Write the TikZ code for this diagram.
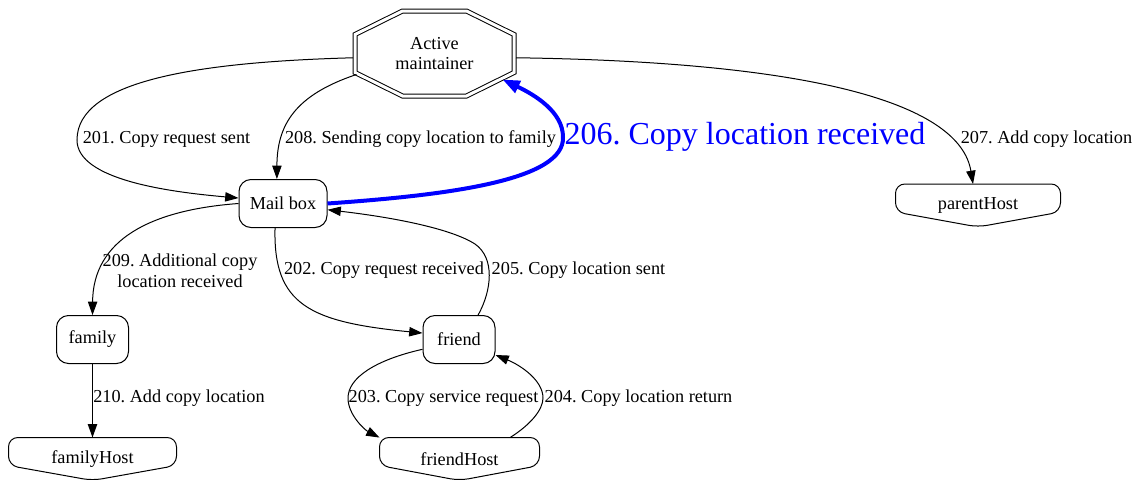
\documentclass[tikz,border=0pt]{standalone}
\usepackage{fontspec}
\setmainfont{Liberation Serif}
\usepackage{tikz}
\usetikzlibrary{arrows.meta}
\frenchspacing

\begin{document}
\begin{tikzpicture}[x=0.75pt,y=-0.75pt,line width=0.75pt,font=\fontsize{13.7}{15.5}\selectfont]
\tikzset{
 box/.style={draw,rounded corners=9pt,minimum width=54pt,minimum height=36pt,inner sep=2pt},
 host/.style={minimum height=31.5pt,inner sep=0pt},
 oct/.style={minimum width=122.25pt,minimum height=66.75pt,align=center,inner sep=0pt,outer sep=0pt},
 dbl/.style={double,double distance=2.25pt},
 lbl/.style={inner sep=0pt,align=center},
 a/.style={-{Triangle[length=10pt,width=7pt]}},
 hl/.style={-{Triangle[length=13pt,width=9.5pt]},line width=3pt,draw=blue}
}
\useasboundingbox (0,0) rectangle (1140,479);
\node[oct] (am) at (434.5,53.5) {Active\\maintainer};
\draw[dbl,shift={(am.center)}] (-32,-42.5) -- (32,-42.5) -- (79.5,-19) -- (79.5,19) -- (32,42.5) -- (-32,42.5) -- (-79.5,19) -- (-79.5,-19) -- cycle;
\node[box,minimum width=66pt] (mb) at (283,203.5) {Mail box};
\node[box] (fr) at (459,339.5) {friend};
\node[box] (fa) at (92.5,339.5) {family};
\node[host,minimum width=123pt] (ph) at (978,205.5) {parentHost};
\node[host,minimum width=125.25pt] (fh) at (92.5,459) {familyHost};
\node[host,minimum width=119.25pt] (frh) at (459.5,459) {friendHost};
\foreach \h in {ph,fh,frh}{\draw[rounded corners=7pt] (\h.north) -- (\h.north east) -- ([yshift=11.25pt]\h.south east) -- (\h.south) -- ([yshift=11.25pt]\h.south west) -- (\h.north west) -- cycle;}
% labels
\node[lbl] (l201) at (166.5,139) {201. Copy request sent};
\node[lbl] (l208) at (420.5,139) {208. Sending copy location to family};
\node[lbl,font=\fontsize{24}{26}\selectfont,text=blue] (l206) at (745,137) {206. Copy location received};
\node[lbl] (l207) at (1046.5,139) {207. Add copy location};
\node[lbl] (l209) at (180,271) {209. Additional copy\\location received};
\node[lbl] (l202) at (384,270) {202. Copy request received};
\node[lbl] (l205) at (578.5,270) {205. Copy location sent};
\node[lbl] (l203) at (443.5,398) {203. Copy service request};
\node[lbl] (l204) at (638.5,398) {204. Copy location return};
\node[lbl] (l210) at (179,398) {210. Add copy location};
% edges
\draw[a] (am.183) .. controls (200,62) and (77,80) .. (77,140) .. controls (77,180) and (170,192) .. (mb.173);
\draw[a] ([shift={(-78,21)}]am.center) .. controls (295,95) and (277,125) .. (mb.104);
\draw[a] (mb.west) .. controls (150,210) and (93,240) .. (fa.north);
\draw[hl] (mb.east) .. controls (450,195) and (565,180) .. (563,137) .. controls (563,112) and (535,95) .. ([shift={(68,26)}]am.center);
\draw[a] (am.-3) .. controls (820,62) and (960,105) .. (ph.103);
\draw[a] (mb.-108) .. controls (273,305) and (310,322) .. (fr.170);
\draw[a] (fr.52) .. controls (492,290) and (495,258) .. (475,244) .. controls (450,228) and (390,217) .. (mb.-8);
\draw[a] (fr.195) .. controls (375,360) and (348,378) .. (348,398) .. controls (348,415) and (365,430) .. (frh.165);
\draw[a] (frh.23) .. controls (530,425) and (543,410) .. (543,398) .. controls (543,380) and (520,365) .. (fr.-23);
\draw[a] (fa.south) -- (fh.north);
\end{tikzpicture}
\end{document}
